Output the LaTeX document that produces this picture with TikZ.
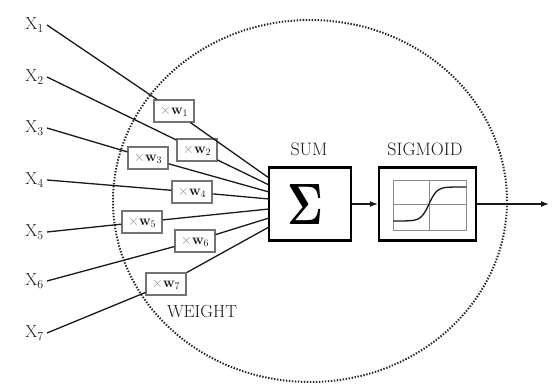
\documentclass[tikz,border=0pt]{standalone}
\usepackage{graphicx}
\usetikzlibrary{arrows.meta}
\begin{document}
\begin{tikzpicture}[x=1pt,y=-1pt,
  inlabel/.style={anchor=east,inner sep=3pt,text=black!90,font=\fontsize{17.28}{20}\selectfont},
  wbox/.style={draw=black!55,line width=1.2pt,fill=white,minimum width=40pt,minimum height=22pt,inner sep=1pt,font=\fontsize{14.4}{16}\selectfont},
  conn/.style={draw=black!90,line width=1.3pt},
  block/.style={draw=black,line width=2.2pt,fill=white},
  title/.style={font=\fontsize{18}{20}\selectfont,text=black!90},
  flow/.style={draw=black!90,line width=1.3pt,-{Latex[length=8pt,width=6pt]}},
  plotline/.style={draw=black!45,line width=0.9pt}
]
\useasboundingbox (0,0) rectangle (552,385);
% dotted neuron boundary
\draw[black!85,line width=2pt,dash pattern=on 1.4pt off 1.6pt] (310,201) ellipse [x radius=197pt, y radius=181pt];

% blocks
\node[block,minimum width=82pt,minimum height=73pt] (sum) at (310,204) {};
\node (sigma) at (305,204) {\resizebox{36pt}{40pt}{$\mathbf{\Sigma}$}};
\node[block,minimum width=97pt,minimum height=73pt] (sig) at (427.5,204) {};
\node[title] (sumlabel) at (309,149) {SUM};
\node[title] (siglabel) at (425,149) {SIGMOID};

% sigmoid plot
\draw[plotline] (393,180) rectangle (466,230);
\draw[plotline] (429,180) -- (429,230);
\draw[plotline] (393,204) -- (466,204);
\draw[black!90,line width=1.3pt] plot[domain=393:466,samples=60,smooth] (\x,{204-17*tanh((\x-429)/8)});

% inputs
\node[inlabel] (x1) at (47,25) {$\mathrm{X}_1$};
\node[inlabel] (x2) at (47,77) {$\mathrm{X}_2$};
\node[inlabel] (x3) at (47,128) {$\mathrm{X}_3$};
\node[inlabel] (x4) at (47,180) {$\mathrm{X}_4$};
\node[inlabel] (x5) at (47,232) {$\mathrm{X}_5$};
\node[inlabel] (x6) at (47,281) {$\mathrm{X}_6$};
\node[inlabel] (x7) at (47,333) {$\mathrm{X}_7$};

% end points on the sum block
\coordinate (e1) at (269,178);
\coordinate (e2) at (269,185);
\coordinate (e3) at (269,192);
\coordinate (e4) at (269,199);
\coordinate (e5) at (269,209);
\coordinate (e6) at (269,218);
\coordinate (e7) at (269,227);

% weight boxes
\node[wbox] (w1) at (174,111) {$\color{black!45}\times\color{black!90}\mathbf{w}_1$};
\node[wbox] (w2) at (197,150) {$\color{black!45}\times\color{black!90}\mathbf{w}_2$};
\node[wbox] (w3) at (148,158) {$\color{black!45}\times\color{black!90}\mathbf{w}_3$};
\node[wbox] (w4) at (192,192) {$\color{black!45}\times\color{black!90}\mathbf{w}_4$};
\node[wbox] (w5) at (142,222) {$\color{black!45}\times\color{black!90}\mathbf{w}_5$};
\node[wbox] (w6) at (195,241) {$\color{black!45}\times\color{black!90}\mathbf{w}_6$};
\node[wbox] (w7) at (166,284) {$\color{black!45}\times\color{black!90}\mathbf{w}_7$};

\foreach \i in {1,...,7}{
  \draw[conn] (x\i.east) -- (w\i) -- (e\i);
}

\node[title,font=\fontsize{17.5}{20}\selectfont] (weightlabel) at (202,312) {WEIGHT};

% signal flow
\coordinate (out) at (549,204);
\draw[flow] (sum.east) -- (sig.west);
\draw[flow] (sig.east) -- (out);
\end{tikzpicture}
\end{document}
